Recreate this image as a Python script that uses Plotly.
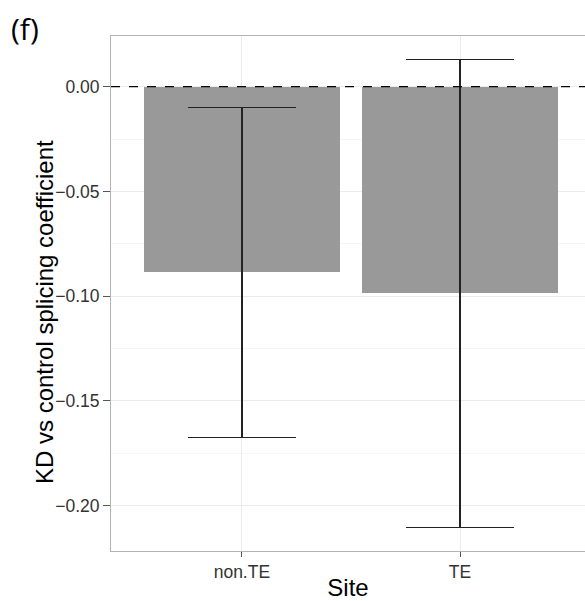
import plotly.graph_objects as go

categories = ["non.TE", "TE"]
coef = [-0.0887, -0.0987]
err = [0.0788, 0.1117]
y_ticks = [0.0, -0.05, -0.10, -0.15, -0.20]

xpos = [1, 2]

fig = go.Figure()
fig.add_trace(go.Bar(
    x=xpos, y=coef, width=0.9,
    marker=dict(color="#999999", line=dict(width=0)),
    error_y=dict(type="data", array=err, visible=True, color="#222222",
                 thickness=1.3, width=54),
    showlegend=False,
))

fig.add_shape(type="line", xref="paper", x0=0, x1=1, yref="y", y0=0, y1=0,
              line=dict(color="black", width=1.2, dash="dash"), layer="above")

fig.add_annotation(text="(f)", xref="paper", yref="paper", x=-0.215, y=1.0155,
                   xanchor="left", yanchor="middle", showarrow=False,
                   font=dict(family="Open Sans", size=30, color="black"))

fig.add_annotation(text="KD vs control splicing coefficient", xref="paper", yref="paper",
                   x=(44 - 111) / 474, y=(551 - 312) / 515, textangle=-90,
                   xanchor="center", yanchor="middle", showarrow=False,
                   font=dict(family="Liberation Sans, Arial", size=24, color="black"))

fig.update_layout(
    width=585, height=601,
    margin=dict(l=111, r=0, t=36, b=50),
    plot_bgcolor="white", paper_bgcolor="white",
    bargap=0,
    font=dict(family="Liberation Sans, Arial", color="black"),
    xaxis=dict(
        range=[0.4, 2.573], tickvals=xpos, ticktext=categories,
        showgrid=True, gridcolor="#ebebeb", gridwidth=1,
        showline=True, linecolor="#b3b3b3", linewidth=1, mirror=True,
        ticks="outside", ticklen=5, tickcolor="#555555",
        tickfont=dict(size=17.5, color="#333333"),
        title=dict(text="Site", font=dict(size=24, color="black"), standoff=1),
        zeroline=False,
    ),
    yaxis=dict(
        range=[-0.2217, 0.0242], tickvals=y_ticks, tickformat=".2f",
        showgrid=True, gridcolor="#ebebeb", gridwidth=1,
        minor=dict(dtick=0.025, tick0=0.025, showgrid=True, gridcolor="#f5f5f5", gridwidth=1),
        showline=True, linecolor="#b3b3b3", linewidth=1,
        ticks="outside", ticklen=7, tickcolor="#555555",
        tickfont=dict(size=17.5, color="#333333"),
        zeroline=False,
    ),
)

fig.write_html("out.html")
